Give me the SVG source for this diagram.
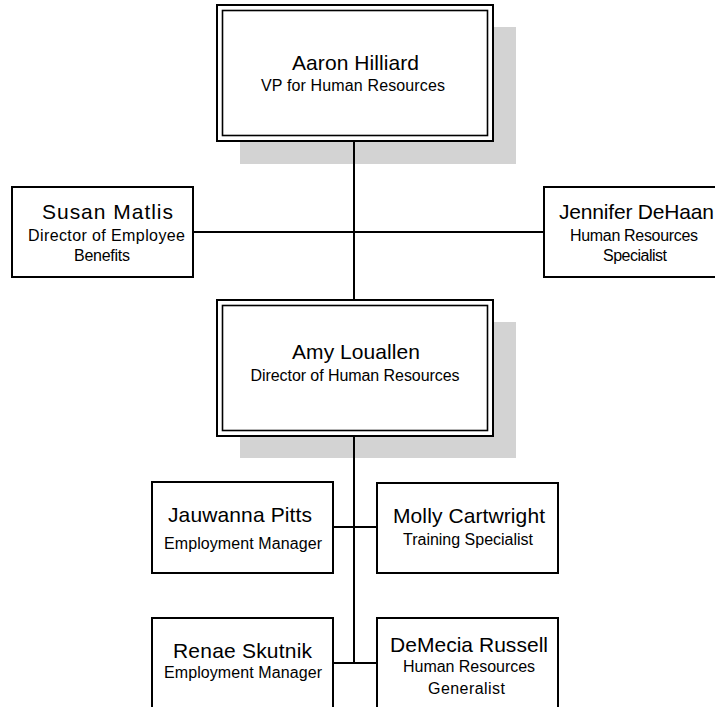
<svg xmlns="http://www.w3.org/2000/svg" width="715" height="707" viewBox="0 0 715 707">
<style>
.bg{fill:#ffffff}
.shadow{fill:#d3d3d3;stroke:none}
.box{fill:#ffffff;stroke:#000000;stroke-width:2}
.inner{fill:none;stroke:#000000;stroke-width:1.6}
.conn{stroke:#000000;stroke-width:2;fill:none}
text{font-family:"Liberation Sans",Arial,sans-serif;fill:#000000;text-anchor:middle}
.name{font-size:21px}
.sub{font-size:16px}
</style>
<rect class="bg" x="0" y="0" width="715" height="707"/>
<g id="shadows">
<rect class="shadow" x="240" y="27" width="276" height="137"/>
<rect class="shadow" x="240" y="322" width="276" height="136"/>
</g>
<g id="connectors">
<line class="conn" x1="354" y1="141" x2="354" y2="300"/>
<line class="conn" x1="193" y1="232" x2="544" y2="232"/>
<line class="conn" x1="354" y1="436" x2="354" y2="663"/>
<line class="conn" x1="333" y1="527" x2="377" y2="527"/>
<line class="conn" x1="333" y1="663" x2="377" y2="663"/>
</g>
<g id="aaron">
<rect class="box" x="217" y="5" width="276" height="136"/>
<rect class="inner" x="222.5" y="10.5" width="265" height="125"/>
<text class="name" x="355.5" y="70" textLength="127" lengthAdjust="spacing">Aaron Hilliard</text>
<text class="sub" x="353" y="91" textLength="184" lengthAdjust="spacing">VP for Human Resources</text>
</g>
<g id="susan">
<rect class="box" x="12" y="187" width="181" height="90"/>
<text class="name" x="107.5" y="219" textLength="131" lengthAdjust="spacing">Susan Matlis</text>
<text class="sub" x="106.5" y="241" textLength="157" lengthAdjust="spacing">Director of Employee</text>
<text class="sub" x="102" y="261" textLength="56" lengthAdjust="spacing">Benefits</text>
</g>
<g id="jennifer">
<rect class="box" x="544" y="187" width="182" height="90"/>
<text class="name" x="636.5" y="219" textLength="155" lengthAdjust="spacing">Jennifer DeHaan</text>
<text class="sub" x="634" y="241" textLength="128" lengthAdjust="spacing">Human Resources</text>
<text class="sub" x="635" y="261" textLength="64" lengthAdjust="spacing">Specialist</text>
</g>
<g id="amy">
<rect class="box" x="217" y="300" width="276" height="136"/>
<rect class="inner" x="222.5" y="305.5" width="265" height="125"/>
<text class="name" x="356" y="359" textLength="128" lengthAdjust="spacing">Amy Louallen</text>
<text class="sub" x="355" y="381" textLength="209" lengthAdjust="spacing">Director of Human Resources</text>
</g>
<g id="jauwanna">
<rect class="box" x="152" y="482" width="181" height="91"/>
<text class="name" x="240" y="522" textLength="144" lengthAdjust="spacing">Jauwanna Pitts</text>
<text class="sub" x="243" y="549" textLength="158" lengthAdjust="spacing">Employment Manager</text>
</g>
<g id="molly">
<rect class="box" x="377" y="483" width="181" height="90"/>
<text class="name" x="469" y="523" textLength="152" lengthAdjust="spacing">Molly Cartwright</text>
<text class="sub" x="468" y="545" textLength="130" lengthAdjust="spacing">Training Specialist</text>
</g>
<g id="renae">
<rect class="box" x="152" y="618" width="181" height="91"/>
<text class="name" x="242.5" y="658" textLength="139" lengthAdjust="spacing">Renae Skutnik</text>
<text class="sub" x="243" y="678" textLength="158" lengthAdjust="spacing">Employment Manager</text>
</g>
<g id="demecia">
<rect class="box" x="377" y="618" width="181" height="91"/>
<text class="name" x="469" y="652" textLength="158" lengthAdjust="spacing">DeMecia Russell</text>
<text class="sub" x="469" y="672" textLength="132" lengthAdjust="spacing">Human Resources</text>
<text class="sub" x="466.5" y="694" textLength="77" lengthAdjust="spacing">Generalist</text>
</g>
</svg>
